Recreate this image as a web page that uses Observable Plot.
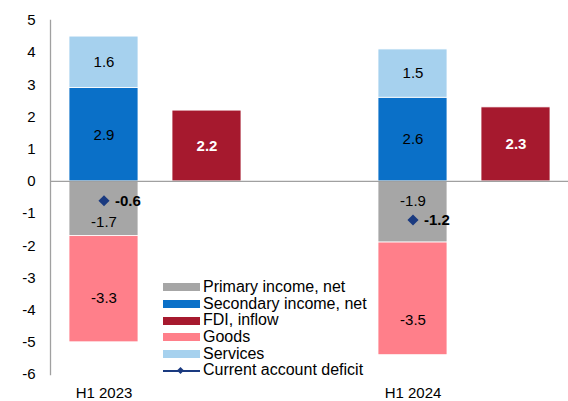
<!DOCTYPE html>
<html>
<head>
<meta charset="utf-8">
<script src="https://cdn.jsdelivr.net/npm/d3@7"></script>
<script src="https://cdn.jsdelivr.net/npm/@observablehq/plot@0.6"></script>
<style>
  body { margin: 0; background: #fff; }
  #wrap { position: relative; width: 568px; height: 401px; font-family: "Liberation Sans", Arial, sans-serif; }
  #legend { position: absolute; left: 163px; top: 279px; font-size: 16px; color: #000; }
  .row { display: flex; align-items: center; height: 16.7px; line-height: 16.7px; white-space: nowrap; }
  .sw { width: 37px; height: 8px; margin-right: 3px; position: relative; flex: none; }
  .ln { width: 37px; height: 8px; margin-right: 3px; position: relative; flex: none; }
  .ln::before { content: ""; position: absolute; left: 0; right: 0; top: 3px; height: 2px; background: #1a3a80; }
  .ln::after { content: ""; position: absolute; left: 15px; top: 1px; width: 5px; height: 5px; background: #1a3a80; transform: rotate(45deg); }
</style>
</head>
<body>
<div id="wrap"></div>
<script>
// ---- data ----
const periods = ["H1 2023", "H1 2024"];
const fdiSlots = ["FDI 2023", "FDI 2024"];
const primaryIncome = [-1.7, -1.9];
const secondaryIncome = [2.9, 2.6];
const goods = [-3.3, -3.5];
const services = [1.6, 1.5];
const fdiInflow = [2.2, 2.3];
const currentAccount = [-0.6, -1.2];
const yTicks = [-6, -5, -4, -3, -2, -1, 0, 1, 2, 3, 4, 5];

const seriesNames = ["Primary income, net", "Secondary income, net", "FDI, inflow", "Goods", "Services"];
const colors = {
  "Primary income, net": "#a6a6a6",
  "Secondary income, net": "#0a70c8",
  "FDI, inflow": "#a6192e",
  "Goods": "#ff7f8a",
  "Services": "#a6d1ee"
};
const caColor = "#1a3a80";

// stacked rows
const stackSeries = [
  ["Primary income, net", primaryIncome],
  ["Secondary income, net", secondaryIncome],
  ["Goods", goods],
  ["Services", services]
];
const rows = [];
periods.forEach((p, i) => {
  let pos = 0, neg = 0;
  for (const [s, vals] of stackSeries) {
    const v = vals[i];
    let y1, y2;
    if (v >= 0) { y1 = pos; y2 = pos + v; pos = y2; }
    else { y1 = neg; y2 = neg + v; neg = y2; }
    rows.push({slot: p, series: s, value: v, y1, y2, mid: (y1 + y2) / 2, i});
  }
});
const fdiRows = fdiSlots.map((s, i) => ({slot: s, series: "FDI, inflow", value: fdiInflow[i]}));
const caRows = periods.map((p, i) => ({slot: p, value: currentAccount[i]}));

// label adjustments (value units) mimicking manually moved labels in the original
const labelNudge = {
  "Primary income, net|0": -0.41, "Primary income, net|1": 0.33,
  "Goods|0": -0.29, "Goods|1": -0.65
};
rows.forEach(r => { r.ly = r.mid + (labelNudge[r.series + "|" + r.i] || 0); });

const fmt = v => String(v);

const chart = Plot.plot({
  width: 568,
  height: 401,
  marginLeft: 50,
  marginRight: 0,
  marginTop: 20,
  marginBottom: 27,
  style: {fontFamily: "'Liberation Sans', Arial, sans-serif", fontSize: "15px", color: "#000", background: "#fff"},
  x: {domain: ["H1 2023", "FDI 2023", "gap", "H1 2024", "FDI 2024"], paddingInner: 0.333, paddingOuter: 0.16, axis: null},
  y: {domain: [-6, 5], axis: null},
  color: {domain: seriesNames, range: seriesNames.map(s => colors[s])},
  marks: [
    Plot.barY(rows, {x: "slot", y1: "y1", y2: "y2", fill: "series", stroke: "white", strokeWidth: 0.8}),
    Plot.barY(fdiRows, {x: "slot", y: "value", fill: "series", stroke: "white", strokeWidth: 0.8}),
    Plot.ruleY([0], {stroke: "#a0a0a0", strokeWidth: 1.3}),
    Plot.frame({anchor: "left", stroke: "#a0a0a0", strokeWidth: 1.3}),
    Plot.axisY({ticks: yTicks, tickSize: 0, tickPadding: 15, tickFormat: fmt, fontSize: 15}),
    Plot.axisX({ticks: periods, tickSize: 0, tickPadding: 13, fontSize: 15, label: null}),
    Plot.text(rows, {x: "slot", y: "ly", text: d => fmt(d.value), fill: "#000", fontSize: 15}),
    Plot.text(fdiRows, {x: "slot", y: d => d.value / 2, text: d => fmt(d.value), fill: "white", fontWeight: "bold", fontSize: 15}),
    Plot.dot(caRows, {x: "slot", y: "value", symbol: "diamond2", r: 5, fill: caColor, stroke: null}),
    Plot.text(caRows, {x: "slot", y: "value", text: d => fmt(d.value), textAnchor: "start", dx: 11, fontWeight: "bold", fontSize: 15, fill: "#000"})
  ]
});

const wrap = document.getElementById("wrap");
wrap.appendChild(chart);

// legend
const legend = document.createElement("div");
legend.id = "legend";
seriesNames.forEach(s => {
  const row = document.createElement("div");
  row.className = "row";
  const sw = document.createElement("span");
  sw.className = "sw";
  sw.style.background = colors[s];
  const t = document.createElement("span");
  t.textContent = s;
  row.appendChild(sw); row.appendChild(t);
  legend.appendChild(row);
});
{
  const row = document.createElement("div");
  row.className = "row";
  const sw = document.createElement("span");
  sw.className = "ln";
  const t = document.createElement("span");
  t.textContent = "Current account deficit";
  row.appendChild(sw); row.appendChild(t);
  legend.appendChild(row);
}
wrap.appendChild(legend);
</script>
</body>
</html>
